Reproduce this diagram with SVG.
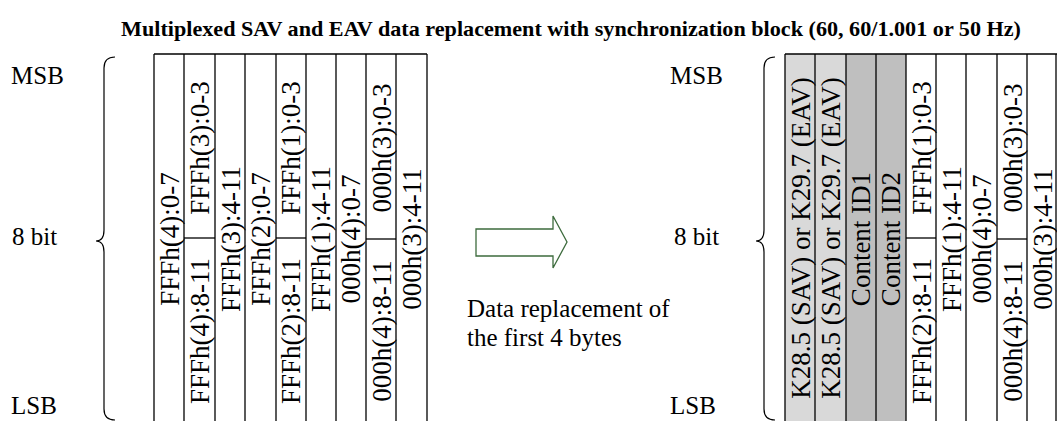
<svg xmlns="http://www.w3.org/2000/svg" width="1057" height="421" viewBox="0 0 1057 421">
<style>
.t{font-family:"Liberation Serif","Times New Roman",serif;fill:#000}
.lbl{font-size:25px}
.col{font-size:27px;text-anchor:middle}
.ttl{font-size:22px;font-weight:bold;text-anchor:middle}
.ln{stroke:#000;stroke-width:1.3;fill:none}
.brace{stroke:#000;stroke-width:1.2;fill:none}
.lg{fill:#d9d9d9}
.dg{fill:#bfbfbf}
</style>
<rect width="1057" height="421" fill="#fff"/>
<text id="title" class="t ttl" x="571" y="36" textLength="900" lengthAdjust="spacingAndGlyphs">Multiplexed SAV and EAV data replacement with synchronization block (60, 60/1.001 or 50 Hz)</text>

<g id="left-labels">
<text class="t lbl" x="11" y="84">MSB</text>
<text class="t lbl" x="12" y="245">8 bit</text>
<text class="t lbl" x="11" y="414">LSB</text>
<path class="brace" d="M115,57 Q104,57 104,68 L104,230 Q104,241 96,241 Q104,241 104,252 L104,409 Q104,420 115,420"/>
</g>

<g id="left-table">
<g class="ln">
<line x1="154" y1="54" x2="427" y2="54"/>
<line x1="154" y1="54" x2="154" y2="421"/>
<line x1="184" y1="54" x2="184" y2="421"/>
<line x1="215" y1="54" x2="215" y2="421"/>
<line x1="245" y1="54" x2="245" y2="421"/>
<line x1="276" y1="54" x2="276" y2="421"/>
<line x1="306" y1="54" x2="306" y2="421"/>
<line x1="336" y1="54" x2="336" y2="421"/>
<line x1="366" y1="54" x2="366" y2="421"/>
<line x1="396" y1="54" x2="396" y2="421"/>
<line x1="427" y1="54" x2="427" y2="421"/>
<line x1="184" y1="238" x2="215" y2="238"/>
<line x1="276" y1="238" x2="306" y2="238"/>
<line x1="366" y1="239" x2="396" y2="239"/>
</g>
<g id="L1"><text class="t col" transform="translate(179,239) rotate(-90)">FFFh(4):0-7</text></g>
<g id="L2a"><text class="t col" transform="translate(209,148) rotate(-90)">FFFh(3):0-3</text></g>
<g id="L2b"><text class="t col" transform="translate(209,331) rotate(-90)">FFFh(4):8-11</text></g>
<g id="L3"><text class="t col" transform="translate(240,239) rotate(-90)">FFFh(3):4-11</text></g>
<g id="L4"><text class="t col" transform="translate(270,239) rotate(-90)">FFFh(2):0-7</text></g>
<g id="L5a"><text class="t col" transform="translate(300,148) rotate(-90)">FFFh(1):0-3</text></g>
<g id="L5b"><text class="t col" transform="translate(300,331) rotate(-90)">FFFh(2):8-11</text></g>
<g id="L6"><text class="t col" transform="translate(330,239) rotate(-90)">FFFh(1):4-11</text></g>
<g id="L7"><text class="t col" transform="translate(360,239) rotate(-90)">000h(4):0-7</text></g>
<g id="L8a"><text class="t col" transform="translate(391,148) rotate(-90)">000h(3):0-3</text></g>
<g id="L8b"><text class="t col" transform="translate(391,331) rotate(-90)">000h(4):8-11</text></g>
<g id="L9"><text class="t col" transform="translate(421,239) rotate(-90)">000h(3):4-11</text></g>
</g>

<g id="connectors">
<path d="M476,229 L553,229 L553,216 L567,242 L553,268 L553,256 L476,256 Z" fill="#fff" stroke="#3d6b3d" stroke-width="1.3"/>
</g>
<g id="note">
<text class="t lbl" x="467" y="317">Data replacement of</text>
<text class="t lbl" x="467" y="346">the first 4 bytes</text>
</g>

<g id="right-labels">
<text class="t lbl" x="670" y="84">MSB</text>
<text class="t lbl" x="674" y="245">8 bit</text>
<text class="t lbl" x="670" y="414">LSB</text>
<path class="brace" d="M775,57 Q764,57 764,68 L764,230 Q764,241 756,241 Q764,241 764,252 L764,409 Q764,420 775,420"/>
</g>

<g id="right-table">
<rect class="lg" x="785" y="54" width="61" height="367"/>
<rect class="dg" x="846" y="54" width="60" height="367"/>
<g class="ln">
<line x1="785" y1="54" x2="1057" y2="54"/>
<line x1="785" y1="54" x2="785" y2="421"/>
<line x1="815" y1="54" x2="815" y2="421"/>
<line x1="846" y1="54" x2="846" y2="421"/>
<line x1="876" y1="54" x2="876" y2="421"/>
<line x1="906" y1="54" x2="906" y2="421"/>
<line x1="936" y1="54" x2="936" y2="421"/>
<line x1="966" y1="54" x2="966" y2="421"/>
<line x1="997" y1="54" x2="997" y2="421"/>
<line x1="1027" y1="54" x2="1027" y2="421"/>
<line x1="1056" y1="54" x2="1056" y2="421"/>
<line x1="906" y1="238" x2="936" y2="238"/>
<line x1="997" y1="239" x2="1027" y2="239"/>
</g>
<g id="R1"><text class="t col" transform="translate(810,238) rotate(-90)">K28.5 (SAV) or K29.7 (EAV)</text></g>
<g id="R2"><text class="t col" transform="translate(840,238) rotate(-90)">K28.5 (SAV) or K29.7 (EAV)</text></g>
<g id="R3"><text class="t col" transform="translate(870,239) rotate(-90)">Content ID1</text></g>
<g id="R4"><text class="t col" transform="translate(900,239) rotate(-90)">Content ID2</text></g>
<g id="R5a"><text class="t col" transform="translate(931,148) rotate(-90)">FFFh(1):0-3</text></g>
<g id="R5b"><text class="t col" transform="translate(931,331) rotate(-90)">FFFh(2):8-11</text></g>
<g id="R6"><text class="t col" transform="translate(961,239) rotate(-90)">FFFh(1):4-11</text></g>
<g id="R7"><text class="t col" transform="translate(991,239) rotate(-90)">000h(4):0-7</text></g>
<g id="R8a"><text class="t col" transform="translate(1022,148) rotate(-90)">000h(3):0-3</text></g>
<g id="R8b"><text class="t col" transform="translate(1022,331) rotate(-90)">000h(4):8-11</text></g>
<g id="R9"><text class="t col" transform="translate(1052,239) rotate(-90)">000h(3):4-11</text></g>
</g>
</svg>
